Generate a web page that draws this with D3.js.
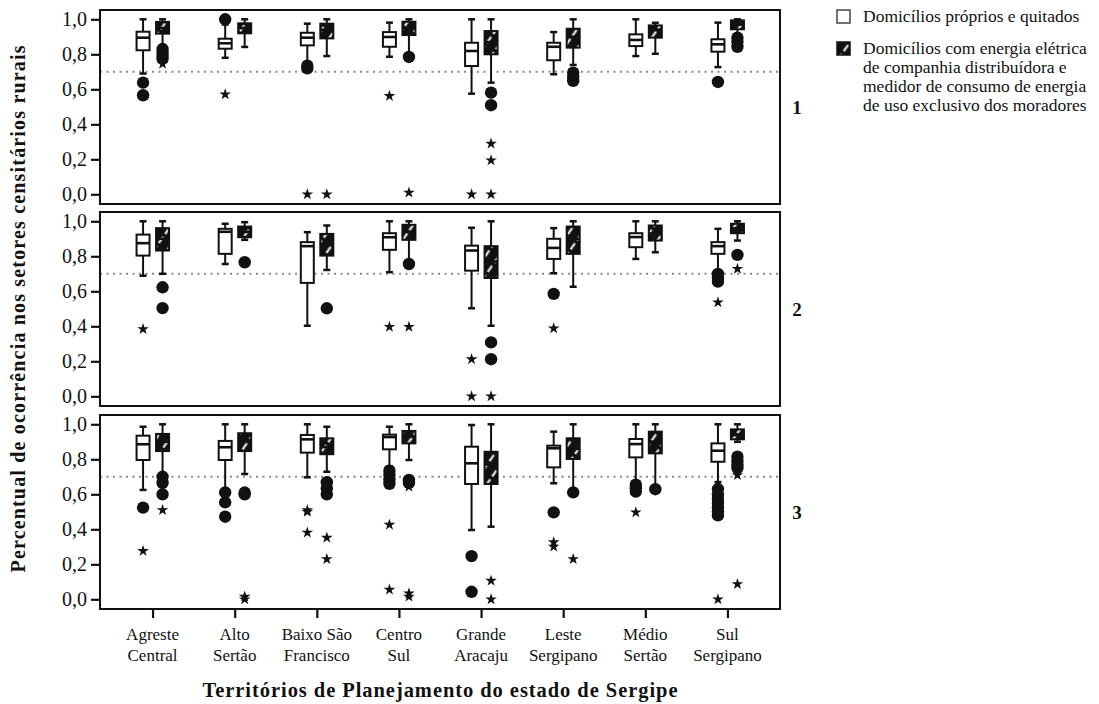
<!DOCTYPE html>
<html>
<head>
<meta charset="utf-8">
<script src="https://cdn.jsdelivr.net/npm/d3@7"></script>
<style>
  body { margin: 0; background: #fff; }
  svg { display: block; }
  text { font-family: "Liberation Serif", "Times New Roman", serif; fill: #111; }
</style>
</head>
<body>
<svg id="chart" width="1099" height="704"></svg>
<script>
// ---------------- DATA ----------------
const categories = ["Agreste Central", "Alto Sertão", "Baixo São Francisco", "Centro Sul",
  "Grande Aracaju", "Leste Sergipano", "Médio Sertão", "Sul Sergipano"];
const categoryLines = [["Agreste", "Central"], ["Alto", "Sertão"], ["Baixo São", "Francisco"],
  ["Centro", "Sul"], ["Grande", "Aracaju"], ["Leste", "Sergipano"], ["Médio", "Sertão"], ["Sul", "Sergipano"]];
const seriesNames = ["Domicílios próprios e quitados",
  "Domicílios com energia elétrica de companhia distribuídora e medidor de consumo de energia de uso exclusivo dos moradores"];
const legendLines = [["Domicílios próprios e quitados"],
  ["Domicílios com energia elétrica", "de companhia distribuídora e", "medidor de consumo de energia", "de uso exclusivo dos moradores"]];
const panelLabels = ["1", "2", "3"];
const yTicks = [0, 0.2, 0.4, 0.6, 0.8, 1.0];
const referenceLine = 0.7;

// box stats: [lower whisker, Q1, median, Q3, upper whisker]
const ownP1 = [[0.69,0.823,0.895,0.929,1.0],[0.78,0.832,0.863,0.889,0.97],[0.74,0.851,0.895,0.923,0.975],[0.786,0.843,0.899,0.927,0.981],
  [0.575,0.733,0.819,0.866,1.0],[0.686,0.766,0.843,0.866,0.927],[0.79,0.847,0.882,0.914,1.0],[0.727,0.815,0.857,0.886,0.981]];
const energyP1 = [[0.84,0.918,0.95,0.985,1.0],[0.842,0.92,0.95,0.977,1.0],[0.79,0.891,0.94,0.975,1.0],[0.80,0.91,0.95,0.986,1.0],
  [0.638,0.80,0.87,0.933,1.0],[0.739,0.838,0.90,0.946,1.0],[0.803,0.895,0.94,0.965,0.98],[0.915,0.943,0.97,0.994,1.0]];
const ownP2 = [[0.689,0.804,0.875,0.924,1.0],[0.756,0.814,0.94,0.957,0.986],[0.403,0.648,0.858,0.881,0.938],[0.709,0.837,0.909,0.932,1.0],
  [0.503,0.718,0.833,0.861,0.963],[0.703,0.785,0.848,0.90,0.961],[0.785,0.852,0.91,0.932,1.0],[0.718,0.814,0.858,0.881,0.957]];
const energyP2 = [[0.70,0.833,0.90,0.961,1.0],[0.894,0.909,0.94,0.97,0.995],[0.722,0.804,0.87,0.928,0.976],[0.77,0.894,0.94,0.98,1.0],
  [0.403,0.676,0.77,0.858,1.0],[0.626,0.814,0.90,0.97,1.0],[0.823,0.89,0.93,0.976,1.0],[0.89,0.932,0.96,0.986,1.0]];
const ownP3 = [[0.625,0.796,0.886,0.935,0.986],[0.63,0.796,0.869,0.905,1.0],[0.697,0.838,0.914,0.939,1.0],[0.76,0.857,0.927,0.941,0.986],
  [0.396,0.659,0.777,0.872,0.996],[0.663,0.754,0.863,0.878,0.958],[0.67,0.811,0.887,0.916,1.0],[0.67,0.786,0.849,0.891,1.0]];
const energyP3 = [[0.72,0.847,0.90,0.945,1.0],[0.716,0.847,0.91,0.949,1.0],[0.729,0.829,0.87,0.92,0.986],[0.796,0.891,0.93,0.962,1.0],
  [0.415,0.659,0.77,0.843,1.0],[0.62,0.802,0.86,0.92,1.0],[0.64,0.834,0.90,0.958,1.0],[0.90,0.914,0.94,0.971,1.0]];

// outliers: [category index, series index (0 own, 1 energy), value]
const circlesP1 = [[0,0,0.638],[0,0,0.566],[0,1,0.83],[0,1,0.81],[0,1,0.79],[0,1,0.775],[1,0,1.0],[2,0,0.735],[2,0,0.72],
  [3,1,0.785],[4,1,0.581],[4,1,0.509],[5,1,0.695],[5,1,0.67],[5,1,0.648],[7,0,0.642],[7,1,0.895],[7,1,0.872],[7,1,0.843]];
const starsP1 = [[0,1,0.745],[1,0,0.571],[2,0,0.0],[2,1,0.0],[3,0,0.562],[3,1,0.01],[4,0,0.0],[4,1,0.289],[4,1,0.194],[4,1,0.0]];
const circlesP2 = [[0,1,0.623],[0,1,0.504],[1,1,0.766],[2,1,0.503],[3,1,0.756],[4,1,0.308],[4,1,0.212],[5,0,0.585],
  [7,0,0.699],[7,0,0.676],[7,0,0.655],[7,1,0.808]];
const starsP2 = [[0,0,0.384],[3,0,0.397],[3,1,0.397],[4,0,0.212],[4,0,0.0],[4,1,0.0],[5,0,0.388],[7,0,0.537],[7,1,0.728]];
const circlesP3 = [[0,0,0.524],[0,1,0.70],[0,1,0.665],[0,1,0.60],[1,0,0.611],[1,0,0.554],[1,0,0.472],[1,1,0.61],[1,1,0.60],
  [2,1,0.669],[2,1,0.634],[2,1,0.60],[3,0,0.735],[3,0,0.71],[3,0,0.685],[3,0,0.66],[3,1,0.682],[3,1,0.665],
  [4,0,0.247],[4,0,0.043],[5,0,0.497],[5,1,0.611],[6,0,0.655],[6,0,0.635],[6,0,0.615],[6,1,0.629],
  [7,0,0.63],[7,0,0.60],[7,0,0.575],[7,0,0.55],[7,0,0.525],[7,0,0.50],[7,0,0.48],[7,1,0.815],[7,1,0.79],[7,1,0.77],[7,1,0.75]];
const starsP3 = [[0,0,0.276],[0,1,0.51],[1,1,0.015],[1,1,0.0],[2,0,0.51],[2,0,0.5],[2,0,0.381],[2,1,0.352],[2,1,0.23],
  [3,0,0.426],[3,0,0.055],[3,1,0.643],[3,1,0.034],[3,1,0.015],[4,1,0.106],[4,1,0.0],[5,0,0.326],[5,0,0.301],[5,1,0.23],
  [6,0,0.497],[7,0,0.0],[7,1,0.71],[7,1,0.087]];

const panels = [
  { boxes: [ownP1, energyP1], circles: circlesP1, stars: starsP1 },
  { boxes: [ownP2, energyP2], circles: circlesP2, stars: starsP2 },
  { boxes: [ownP3, energyP3], circles: circlesP3, stars: starsP3 }
];

// ---------------- LAYOUT ----------------
const svg = d3.select("#chart");
const left = 100, right = 780;
const panelTops = [10, 212, 415];
const panelH = 195;
const boxW = 13;

const defs = svg.append("defs");
const pat = defs.append("pattern").attr("id", "hatch").attr("patternUnits", "userSpaceOnUse")
  .attr("width", 11).attr("height", 11).attr("patternTransform", "rotate(35)");
pat.append("rect").attr("width", 11).attr("height", 11).attr("fill", "#111");
pat.append("line").attr("x1", 5.5).attr("x2", 5.5).attr("y1", 1.5).attr("y2", 9)
  .attr("stroke", "#fff").attr("stroke-width", 2);

const x = d3.scalePoint().domain(categories).range([left, right]).padding(0.64);
const sx = d3.scalePoint().domain([0, 1]).range([-9.5, 10]);
const fmt = d => d3.format(".1f")(d).replace(".", ",");

panels.forEach((p, pi) => {
  const top = panelTops[pi];
  const y = d3.scaleLinear().domain([0, 1]).range([top + 184.3, top + 9.3]);
  const g = svg.append("g");

  // reference dotted line
  g.append("line").attr("x1", left).attr("x2", right)
    .attr("y1", y(referenceLine)).attr("y2", y(referenceLine))
    .attr("stroke", "#8a8a8a").attr("stroke-width", 2).attr("stroke-dasharray", "2,4.5");

  // y axis
  const ax = g.append("g").attr("transform", `translate(${left},0)`)
    .call(d3.axisLeft(y).tickValues(yTicks).tickFormat(fmt).tickSize(9).tickPadding(4));
  ax.select(".domain").remove();
  ax.selectAll(".tick line").attr("stroke", "#111").attr("stroke-width", 2.2);
  ax.selectAll(".tick text").style("font-family", "Liberation Serif, serif").style("font-size", "20px")
    .attr("fill", "#111");

  // boxes
  p.boxes.forEach((series, si) => {
    series.forEach((st, ci) => {
      const cx = x(categories[ci]) + sx(si);
      const [lo, q1, med, q3, hi] = st;
      const bg = g.append("g");
      bg.append("line").attr("x1", cx).attr("x2", cx).attr("y1", y(hi)).attr("y2", y(lo))
        .attr("stroke", "#111").attr("stroke-width", 2);
      [lo, hi].forEach(v => bg.append("line").attr("x1", cx - 3.5).attr("x2", cx + 3.5)
        .attr("y1", y(v)).attr("y2", y(v)).attr("stroke", "#111").attr("stroke-width", 2.5));
      bg.append("rect").attr("x", cx - boxW / 2).attr("width", boxW)
        .attr("y", y(q3)).attr("height", Math.max(1, y(q1) - y(q3)))
        .attr("fill", si === 0 ? "#fff" : "url(#hatch)")
        .attr("stroke", "#111").attr("stroke-width", 2);
      bg.append("line").attr("x1", cx - boxW / 2).attr("x2", cx + boxW / 2)
        .attr("y1", y(med)).attr("y2", y(med)).attr("stroke", "#111").attr("stroke-width", 2.6);
    });
  });

  // outliers
  g.selectAll(".c").data(p.circles).join("circle")
    .attr("cx", d => x(categories[d[0]]) + sx(d[1])).attr("cy", d => y(d[2]))
    .attr("r", 6.2).attr("fill", "#111");
  g.selectAll(".s").data(p.stars).join("path")
    .attr("d", d3.symbol().type(d3.symbolStar).size(42))
    .attr("transform", d => `translate(${x(categories[d[0]]) + sx(d[1])},${y(d[2])})`)
    .attr("fill", "#111");

  // frame
  g.append("rect").attr("x", left).attr("y", top).attr("width", right - left).attr("height", panelH - 1)
    .attr("fill", "none").attr("stroke", "#111").attr("stroke-width", 2);

  // panel label
  g.append("text").attr("x", 797).attr("y", top + panelH / 2 + 6)
    .attr("text-anchor", "middle").style("font-size", "19px").style("font-weight", "bold").text(panelLabels[pi]);
});

// x axis
const bottom = panelTops[2] + panelH - 1;
const xa = svg.append("g").attr("transform", `translate(0,${bottom})`)
  .call(d3.axisBottom(x).tickSize(9).tickFormat(""));
xa.select(".domain").remove();
xa.selectAll(".tick line").attr("stroke", "#111").attr("stroke-width", 2.2);
categoryLines.forEach((lines, i) => {
  const t = svg.append("text").attr("x", x(categories[i])).attr("y", bottom + 31)
    .attr("text-anchor", "middle").style("font-size", "17px");
  lines.forEach((ln, j) => t.append("tspan").attr("x", x(categories[i])).attr("dy", j === 0 ? 0 : 21).text(ln));
});

// axis titles
svg.append("text").attr("x", 440).attr("y", 697).attr("text-anchor", "middle")
  .style("font-size", "20.5px").style("font-weight", "bold")
  .attr("textLength", 475).attr("lengthAdjust", "spacing")
  .text("Territórios de Planejamento do estado de Sergipe");
svg.append("text").attr("transform", "translate(25,309) rotate(-90)").attr("text-anchor", "middle")
  .style("font-size", "20px").style("font-weight", "bold")
  .attr("textLength", 527).attr("lengthAdjust", "spacing")
  .text("Percentual de ocorrência nos setores censitários rurais");

// legend
const lg = svg.append("g");
lg.append("rect").attr("x", 837).attr("y", 10).attr("width", 13).attr("height", 13)
  .attr("fill", "#fff").attr("stroke", "#444").attr("stroke-width", 1.5);
lg.append("rect").attr("x", 837).attr("y", 42).attr("width", 13).attr("height", 13)
  .attr("fill", "url(#hatch)").attr("stroke", "#111").attr("stroke-width", 1.5);
const legY = [22, 54];
legendLines.forEach((lines, i) => {
  const t = lg.append("text").attr("x", 863).attr("y", legY[i]).style("font-size", "17.5px");
  lines.forEach((ln, j) => t.append("tspan").attr("x", 863).attr("dy", j === 0 ? 0 : 19).text(ln));
});
</script>
</body>
</html>
